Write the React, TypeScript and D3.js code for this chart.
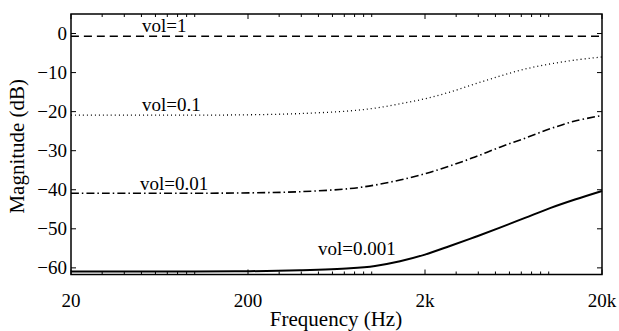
import React from "react";
import * as d3 from "d3";

const W = 619, H = 331;
const freqs = [20, 100, 205, 393, 754, 1044, 1445, 2000, 2767, 3833, 5305, 7345, 10170, 14070, 20000];
const vol1 = [-0.7, -0.7, -0.7, -0.7, -0.7, -0.7, -0.7, -0.7, -0.7, -0.7, -0.7, -0.7, -0.7, -0.7, -0.7];
const vol01 = [-20.9, -20.9, -20.8, -20.5, -19.8, -19.1, -18.0, -16.7, -15.0, -12.9, -10.9, -9.1, -7.8, -6.8, -6.0];
const vol001 = [-40.9, -40.9, -40.8, -40.5, -39.7, -38.8, -37.5, -35.9, -33.9, -31.6, -29.1, -26.8, -24.4, -22.4, -21.0];
const vol0001 = [-60.9, -60.9, -60.85, -60.6, -60.1, -59.5, -58.3, -56.6, -54.4, -52.1, -49.7, -47.2, -44.7, -42.5, -40.3];
const yTicks = [0, -10, -20, -30, -40, -50, -60];
const xTicks = [20, 200, 2000, 20000];
const xTickLabels = ["20", "200", "2k", "20k"];

const series = [
  { name: "vol=1", values: vol1, dash: "8,5", width: 1.6, lx: 142, ly: 32 },
  { name: "vol=0.1", values: vol01, dash: "1,3", width: 1.3, lx: 142, ly: 111 },
  { name: "vol=0.01", values: vol001, dash: "8,3,1.5,3", width: 1.6, lx: 140, ly: 190 },
  { name: "vol=0.001", values: vol0001, dash: "", width: 2, lx: 318, ly: 255 },
];

const font = "Liberation Serif";

export default function App() {
  const left = 71, right = 602, top = 14, bottom = 274.5;
  const x = d3.scaleLog().domain([20, 20000]).range([left, right]);
  const y = d3.scaleLinear().domain([-61.7, 5]).range([bottom, top]);
  const line = d3
    .line<number>()
    .x((_, i) => x(freqs[i]))
    .y((d) => y(d))
    .curve(d3.curveCatmullRom.alpha(0.5));
  const minor: number[] = [];
  for (const dec of [20, 200, 2000]) {
    for (let k = 2; k <= 10; k++) {
      const v = (dec / 2) * k;
      if (v > dec && v < dec * 10) minor.push(v);
    }
  }
  const ts = { fontFamily: font } as React.CSSProperties;
  return (
    <svg width={W} height={H} style={{ position: "absolute", left: 0, top: 0, background: "#fff" }}>
      <rect x={0} y={0} width={W} height={H} fill="#fff" />
      {series.map((s) => (
        <path key={s.name} d={line(s.values) || ""} fill="none" stroke="#000" strokeWidth={s.width} strokeDasharray={s.dash || undefined} />
      ))}
      {series.map((s) => (
        <text key={s.name + "l"} x={s.lx} y={s.ly} fontSize={19} style={ts}>{s.name}</text>
      ))}
      {yTicks.map((t) => (
        <g key={"y" + t}>
          <line x1={left} x2={left + 5} y1={y(t)} y2={y(t)} stroke="#000" strokeWidth={1} />
          <line x1={right} x2={right - 5} y1={y(t)} y2={y(t)} stroke="#000" strokeWidth={1} />
          <text x={left - 4} y={y(t) + 6.5} fontSize={19} textAnchor="end" style={ts}>{t < 0 ? "\u2212" + Math.abs(t) : String(t)}</text>
        </g>
      ))}
      {xTicks.map((t, i) => (
        <g key={"x" + t}>
          <line x1={x(t)} x2={x(t)} y1={bottom} y2={bottom - 5} stroke="#000" strokeWidth={1} />
          <line x1={x(t)} x2={x(t)} y1={top} y2={top + 5} stroke="#000" strokeWidth={1} />
          <text x={x(t)} y={307} fontSize={19} textAnchor="middle" style={ts}>{xTickLabels[i]}</text>
        </g>
      ))}
      {minor.map((t) => (
        <g key={"m" + t}>
          <line x1={x(t)} x2={x(t)} y1={bottom} y2={bottom - 3} stroke="#000" strokeWidth={1} />
          <line x1={x(t)} x2={x(t)} y1={top} y2={top + 3} stroke="#000" strokeWidth={1} />
        </g>
      ))}
      <rect x={left} y={top} width={right - left} height={bottom - top} fill="none" stroke="#000" strokeWidth={1.5} />
      <text x={336} y={326} fontSize={21} textAnchor="middle" style={ts}>Frequency (Hz)</text>
      <text transform={`translate(24,${(top + bottom) / 2 + 2}) rotate(-90)`} fontSize={21} textAnchor="middle" style={ts}>Magnitude (dB)</text>
    </svg>
  );
}
